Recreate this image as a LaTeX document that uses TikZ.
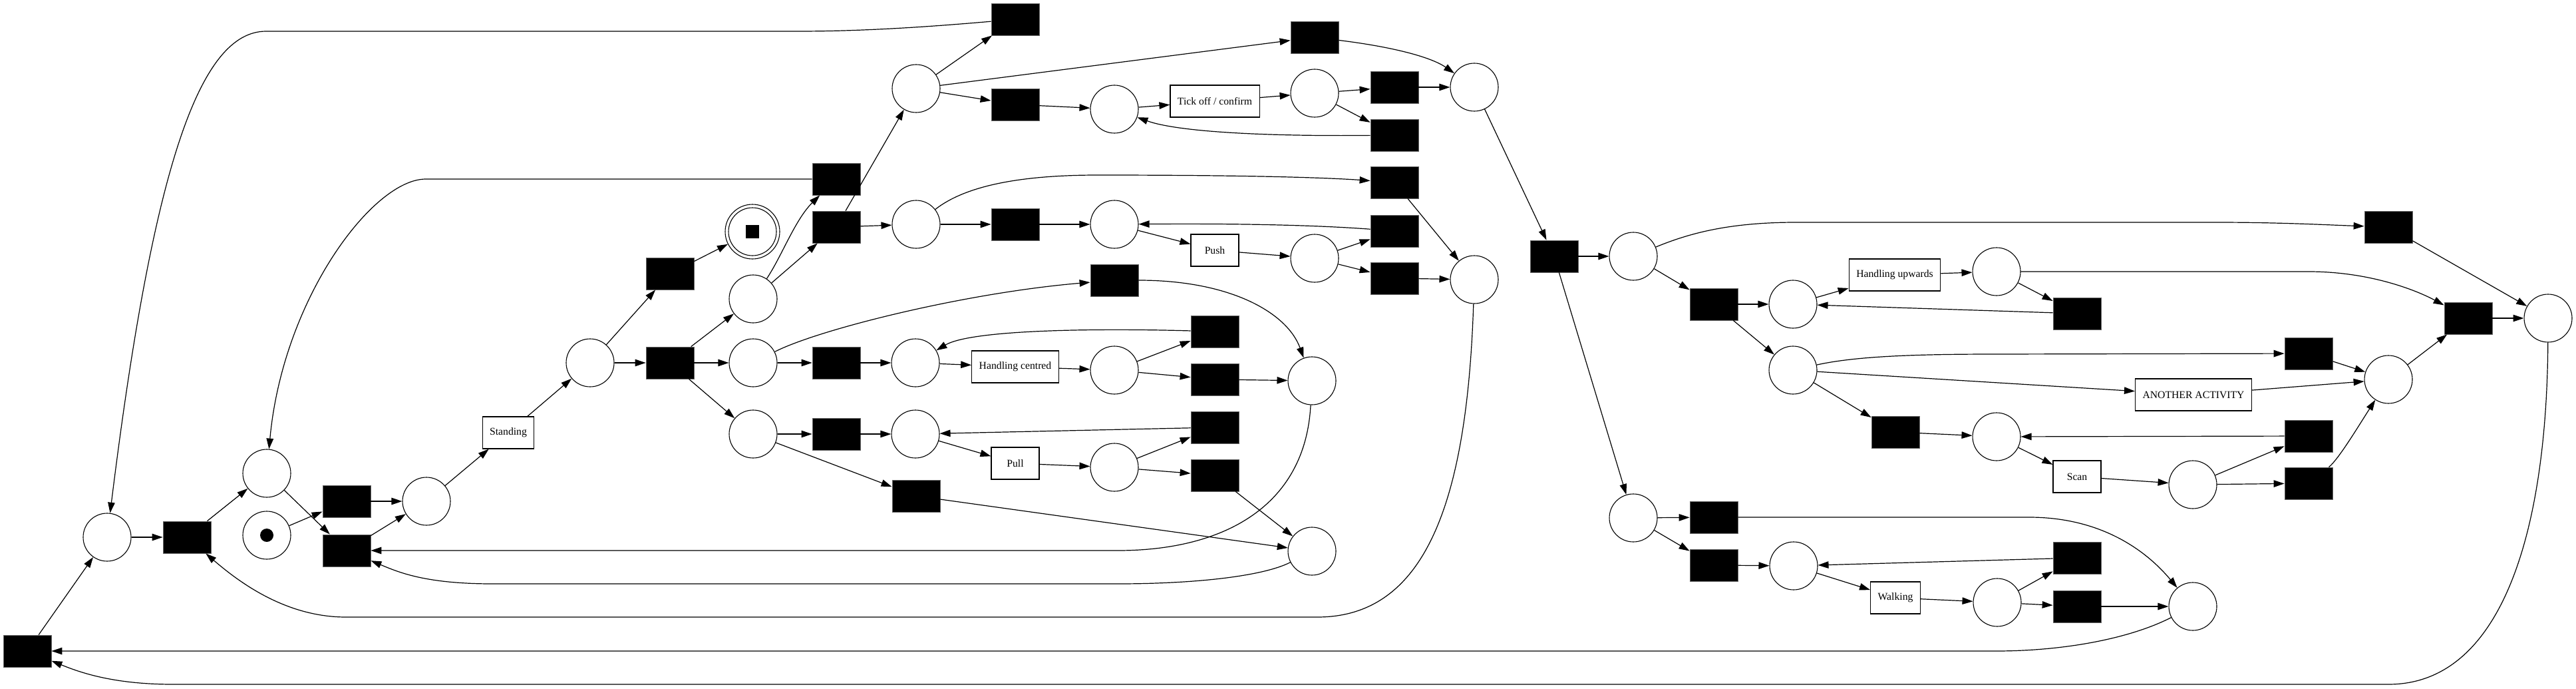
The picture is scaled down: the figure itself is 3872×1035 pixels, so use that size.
\documentclass[tikz,border=0pt]{standalone}
\usepackage{fontspec}
\setmainfont{Liberation Serif}
\usetikzlibrary{arrows.meta}

\begin{document}
\begin{tikzpicture}[x=1pt, y=-1pt,
    place/.style={circle, draw, line width=1.1pt, minimum size=72pt, inner sep=0pt},
    trans/.style={rectangle, draw=black!60, fill=black, line width=0.8pt, minimum width=72pt, minimum height=48pt, inner sep=0pt},
    act/.style={rectangle, draw, line width=1.1pt, minimum width=72pt, minimum height=48pt, inner xsep=11pt, font=\fontsize{15.7}{18}\selectfont},
    arc/.style={-{Triangle[length=16pt, width=10.5pt]}, line width=1.2pt}]
    \useasboundingbox (0,0) rectangle (3872,1035);

    \node[trans] (t0) at (41,978) {};
    \node[place] (pA) at (161,807) {};
    \node[trans] (t1) at (281,807) {};
    \node[place] (pB) at (401,711) {};
    \node[place] (pI) at (401,804) {};
    \node[circle, fill, minimum size=20pt, inner sep=0pt] (tokI) at (pI) {};
    \node[trans] (t2) at (521,753) {};
    \node[trans] (t3) at (521,827) {};
    \node[place] (pC) at (641,753) {};
    \node[act] (standing) at (764,650) {Standing};
    \node[place] (pD) at (887,545) {};
    \node[trans] (tX) at (1007,411) {};
    \node[place, minimum size=82pt] (pF) at (1131,348) {};
    \draw[line width=1.1pt] (pF) circle (36pt);
    \node[rectangle, fill, minimum size=20pt, inner sep=0pt] (tokF) at (pF) {};
    \node[trans] (tS) at (1007,545) {};
    \node[place] (pT) at (1132,449) {};
    \node[place] (pM) at (1132,545) {};
    \node[place] (pL) at (1132,652) {};

    \node[trans] (tT1) at (1257,269) {};
    \node[trans] (tT2) at (1257,341) {};
    \node[place] (pTop) at (1377,133) {};
    \node[trans] (tTop0) at (1526,29) {};
    \node[trans] (tTk) at (1526,157) {};
    \node[place] (pTk) at (1675,164) {};
    \node[act] (tickoff) at (1826,152) {Tick off / confirm};
    \node[place] (pTk1) at (1976,140) {};
    \node[trans] (tTopSkip) at (1976,56) {};
    \node[trans] (tTkOut) at (2096,131) {};
    \node[trans] (tTkBack) at (2096,203) {};
    \node[place] (pTopEnd) at (2216,131) {};

    \node[place] (pPs0) at (1377,337) {};
    \node[trans] (tPs) at (1526,337) {};
    \node[place] (pPs) at (1675,337) {};
    \node[act] (push) at (1826,376) {Push};
    \node[place] (pPs1) at (1976,388) {};
    \node[trans] (tPsSkip) at (2096,274) {};
    \node[trans] (tPsBack) at (2096,347) {};
    \node[trans] (tPsOut) at (2096,418) {};
    \node[place] (pPsEnd) at (2216,420) {};

    \node[trans] (tM) at (1257,545) {};
    \node[place] (pHc0) at (1376,545) {};
    \node[act] (centred) at (1526,551) {Handling centred};
    \node[place] (pHc1) at (1675,556) {};
    \node[trans] (tHcSkip) at (1675,421) {};
    \node[trans] (tHcBack) at (1826,498) {};
    \node[trans] (tHcOut) at (1826,570) {};
    \node[place] (pHcEnd) at (1972,572) {};

    \node[trans] (tL) at (1257,652) {};
    \node[place] (pPl0) at (1376,652) {};
    \node[act] (pull) at (1526,696) {Pull};
    \node[place] (pPl1) at (1675,702) {};
    \node[trans] (tPl2) at (1377,745) {};
    \node[trans] (tPlBack) at (1826,642) {};
    \node[trans] (tPlOut) at (1826,714) {};
    \node[place] (pPlEnd) at (1972,828) {};

    \node[trans] (tR) at (2336,385) {};
    \node[place] (pR1) at (2455,385) {};
    \node[place] (pR2) at (2455,778) {};
    \node[trans] (tHu0) at (2576,457) {};
    \node[place] (pHu0) at (2695,457) {};
    \node[act] (upwards) at (2848,413) {Handling upwards};
    \node[place] (pHu1) at (3001,408) {};
    \node[trans] (tHuBack) at (3122,471) {};
    \node[place] (pAn) at (2695,556) {};
    \node[act] (another) at (3297,593) {ANOTHER ACTIVITY};
    \node[trans] (tAnSkip) at (3470,531) {};
    \node[trans] (tScan0) at (2849,649) {};
    \node[place] (pSc0) at (3001,656) {};
    \node[act] (scan) at (3122,716) {Scan};
    \node[place] (pSc1) at (3296,728) {};
    \node[trans] (tScBack) at (3470,655) {};
    \node[trans] (tScOut) at (3470,726) {};
    \node[place] (pAnEnd) at (3590,570) {};
    \node[trans] (tR1Skip) at (3590,341) {};
    \node[trans] (tJoin) at (3710,478) {};
    \node[place] (pEnd) at (3830,478) {};

    \node[trans] (tW0) at (2576,777) {};
    \node[trans] (tW1) at (2576,849) {};
    \node[place] (pW0) at (2696,850) {};
    \node[act] (walking) at (2849,898) {Walking};
    \node[place] (pW1) at (3002,905) {};
    \node[trans] (tWBack) at (3122,838) {};
    \node[trans] (tWOut) at (3122,911) {};
    \node[place] (pWEnd) at (3296,911) {};

    \draw[arc] (t0) -- (pA);
    \draw[arc] (pA) -- (t1);
    \draw[arc] (t1) -- (pB);
    \draw[arc] (pB) -- (t3);
    \draw[arc] (pI) -- (t2);
    \draw[arc] (t2) -- (pC);
    \draw[arc] (t3) -- (pC);
    \draw[arc] (pC) -- (standing);
    \draw[arc] (standing) -- (pD);
    \draw[arc] (pD) -- (tX);
    \draw[arc] (tX) -- (pF);
    \draw[arc] (pD) -- (tS);
    \draw[arc] (tS) -- (pT);
    \draw[arc] (tS) -- (pM);
    \draw[arc] (tS) -- (pL);

    \draw[arc] (pT) -- (tT2);
    \draw[arc] (tT2) -- (pPs0);
    \draw[arc] (tT2) -- (pTop);
    \draw[arc] (pTop) -- (tTop0);
    \draw[arc] (pTop) -- (tTopSkip);
    \draw[arc] (pTop) -- (tTk);
    \draw[arc] (tTk) -- (pTk);
    \draw[arc] (pTk) -- (tickoff);
    \draw[arc] (tickoff) -- (pTk1);
    \draw[arc] (pTk1) -- (tTkOut);
    \draw[arc] (pTk1) -- (tTkBack);
    \draw[arc] (tTkOut) -- (pTopEnd);

    \draw[arc] (pPs0) -- (tPs);
    \draw[arc] (tPs) -- (pPs);
    \draw[arc] (pPs) -- (push);
    \draw[arc] (push) -- (pPs1);
    \draw[arc] (pPs1) -- (tPsBack);
    \draw[arc] (pPs1) -- (tPsOut);
    \draw[arc] (tPsOut) -- (pPsEnd);
    \draw[arc] (tPsSkip) -- (pPsEnd);

    \draw[arc] (pM) -- (tM);
    \draw[arc] (tM) -- (pHc0);
    \draw[arc] (pHc0) -- (centred);
    \draw[arc] (centred) -- (pHc1);
    \draw[arc] (pHc1) -- (tHcBack);
    \draw[arc] (pHc1) -- (tHcOut);
    \draw[arc] (tHcOut) -- (pHcEnd);

    \draw[arc] (pL) -- (tL);
    \draw[arc] (tL) -- (pPl0);
    \draw[arc] (pPl0) -- (pull);
    \draw[arc] (pull) -- (pPl1);
    \draw[arc] (pPl1) -- (tPlBack);
    \draw[arc] (pPl1) -- (tPlOut);
    \draw[arc] (tPlBack) -- (pPl0);
    \draw[arc] (tPlOut) -- (pPlEnd);
    \draw[arc] (pL) -- (tPl2);
    \draw[arc] (tPl2) -- (pPlEnd);

    \draw[arc] (pTopEnd) -- (tR);
    \draw[arc] (tR) -- (pR1);
    \draw[arc] (tR) -- (pR2);
    \draw[arc] (pR1) -- (tHu0);
    \draw[arc] (tHu0) -- (pHu0);
    \draw[arc] (pHu0) -- (upwards);
    \draw[arc] (upwards) -- (pHu1);
    \draw[arc] (pHu1) -- (tHuBack);
    \draw[arc] (tHuBack) -- (pHu0);
    \draw[arc] (tHu0) -- (pAn);
    \draw[arc] (pAn) -- (another);
    \draw[arc] (pAn) -- (tScan0);
    \draw[arc] (tScan0) -- (pSc0);
    \draw[arc] (pSc0) -- (scan);
    \draw[arc] (scan) -- (pSc1);
    \draw[arc] (pSc1) -- (tScBack);
    \draw[arc] (pSc1) -- (tScOut);
    \draw[arc] (tScBack) -- (pSc0);
    \draw[arc] (tAnSkip) -- (pAnEnd);
    \draw[arc] (another) -- (pAnEnd);
    \draw[arc] (pAnEnd) -- (tJoin);
    \draw[arc] (tJoin) -- (pEnd);
    \draw[arc] (tR1Skip) -- (pEnd);

    \draw[arc] (pR2) -- (tW0);
    \draw[arc] (pR2) -- (tW1);
    \draw[arc] (tW1) -- (pW0);
    \draw[arc] (pW0) -- (walking);
    \draw[arc] (walking) -- (pW1);
    \draw[arc] (pW1) -- (tWBack);
    \draw[arc] (pW1) -- (tWOut);
    \draw[arc] (tWBack) -- (pW0);
    \draw[arc] (tWOut) -- (pWEnd);

    \draw[arc] (tTop0) .. controls (1400,40) and (1300,47) .. (1200,47) -- (400,47) .. controls (300,47) and (230,250) .. (pA);
    \draw[arc] (tT1) -- (640,269) .. controls (560,269) and (425,450) .. (pB);
    \draw[arc] (pT) .. controls (1175,385) and (1195,330) .. (tT1);
    \draw[arc] (tTopSkip) .. controls (2090,70) and (2150,85) .. (pTopEnd);
    \draw[arc] (tTkBack) .. controls (1900,205) and (1770,198) .. (pTk);
    \draw[arc] (tPsBack) .. controls (1950,336) and (1800,336) .. (pPs);
    \draw[arc] (pPs0) .. controls (1450,280) and (1530,263) .. (1650,263) .. controls (1850,263) and (1980,266) .. (tPsSkip);
    \draw[arc] (pPsEnd) .. controls (2205,760) and (2140,927) .. (1980,927) -- (520,927) .. controls (430,927) and (360,875) .. (t1);
    \draw[arc] (tHcBack) .. controls (1650,493) and (1460,495) .. (pHc0);
    \draw[arc] (pM) .. controls (1230,495) and (1450,440) .. (tHcSkip);
    \draw[arc] (tHcSkip) .. controls (1850,421) and (1935,470) .. (pHcEnd);
    \draw[arc] (pHcEnd) .. controls (1962,760) and (1840,827) .. (1680,827) -- (t3);
    \draw[arc] (pPlEnd) .. controls (1900,865) and (1800,877) .. (1680,877) -- (740,877) .. controls (640,877) and (600,860) .. (t3);
    \draw[arc] (pR1) .. controls (2540,350) and (2600,334) .. (2700,334) -- (3330,334) .. controls (3430,334) and (3500,338) .. (tR1Skip);
    \draw[arc] (pHu1) -- (3470,408) .. controls (3560,408) and (3630,435) .. (tJoin);
    \draw[arc] (pAn) .. controls (2790,535) and (2880,532) .. (3000,532) -- (tAnSkip);
    \draw[arc] (tScOut) .. controls (3515,690) and (3545,640) .. (pAnEnd);
    \draw[arc] (tW0) -- (3050,777) .. controls (3150,777) and (3220,820) .. (pWEnd);
    \draw[arc] (pWEnd) .. controls (3200,960) and (3100,978) .. (3000,978) -- (t0);
    \draw[arc] (pEnd) .. controls (3828,800) and (3760,1028) .. (3590,1028) -- (260,1028) .. controls (170,1028) and (120,1010) .. (t0);
\end{tikzpicture}
\end{document}
